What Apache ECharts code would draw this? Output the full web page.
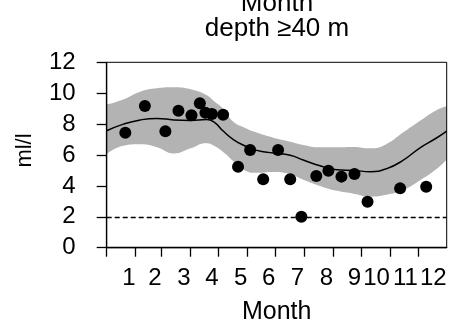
<!DOCTYPE html>
<html>
<head>
<meta charset="utf-8">
<script src="https://cdn.jsdelivr.net/npm/echarts@6/dist/echarts.min.js"></script>
<style>html,body{margin:0;padding:0;background:#fff;}#c{width:457px;height:324px;}</style>
</head>
<body>
<div id="c"></div>
<script>
// Day-of-year positions of month boundaries and labels
var monthStarts = [0, 31, 59, 90, 120, 151, 181, 212, 243, 273, 304, 334];
var monthEnds = [31, 59, 90, 120, 151, 181, 212, 243, 273, 304, 334, 365];
var monthLabels = ["1","2","3","4","5","6","7","8","9","10","11","12"];
var yTicks = [0, 2, 4, 6, 8, 10, 12];

// Observations (day of year, ml/l)
var obsDays = [20, 41, 63, 77, 91, 100, 106, 113, 125, 141, 154, 168, 184, 197, 209, 225, 238, 252, 266, 280, 315, 343];
var obsValues = [7.44, 9.17, 7.53, 8.87, 8.57, 9.35, 8.74, 8.65, 8.61, 5.24, 6.32, 4.43, 6.32, 4.43, 2.0, 4.64, 4.98, 4.6, 4.77, 2.98, 3.84, 3.95];

// Smoothed fit and its confidence band
var fitDays = [0, 18, 36, 54, 72, 90, 107, 115, 125, 136, 147, 161, 179, 197, 211, 229, 247, 265, 283, 300, 318, 336, 354, 365];
var fitValues = [7.57, 8.0, 8.27, 8.37, 8.27, 8.24, 8.3, 8.15, 7.55, 7.0, 6.63, 6.3, 6.13, 5.98, 5.68, 5.3, 5.05, 5.0, 4.92, 5.1, 5.65, 6.45, 7.1, 7.55];
var bandUpper = [9.28, 9.6, 10.1, 10.32, 10.38, 10.25, 9.88, 9.5, 9.0, 8.15, 7.8, 7.45, 7.12, 6.86, 6.65, 6.5, 6.5, 6.52, 6.43, 6.7, 7.45, 8.2, 8.9, 9.15];
var bandLower = [6.06, 6.6, 6.69, 6.5, 6.1, 6.43, 6.76, 6.6, 6.2, 5.6, 5.05, 4.85, 4.9, 4.75, 4.4, 4.0, 3.68, 3.5, 3.3, 3.42, 3.73, 4.35, 5.1, 5.7];
var thresholdValue = 2;

var titleLine1 = "Month";
var titleLine2 = "depth \u226540 m";
var xName = "Month";
var yName = "ml/l";

var FONT = "Liberation Sans, Arial, Helvetica, sans-serif";
var FS = 24;

function pairs(xs, ys) { return xs.map(function (x, i) { return [x, ys[i]]; }); }

var chart = echarts.init(document.getElementById('c'), null, { renderer: 'canvas' });
chart.setOption({
  animation: false,
  backgroundColor: '#fff',
  textStyle: { fontFamily: FONT },
  title: [
    { text: titleLine1, left: 277, textAlign: 'center', top: -7.7, padding: 0,
      textStyle: { fontFamily: FONT, fontSize: 26, fontWeight: 'normal', color: '#000', lineHeight: 24 } },
    { text: titleLine2, left: 277, textAlign: 'center', top: 17.3, padding: 0,
      textStyle: { fontFamily: FONT, fontSize: 26, fontWeight: 'normal', color: '#000', lineHeight: 24 } }
  ],
  grid: { left: 106.7, right: 10.3, top: 62.3, bottom: 76.3, show: true, z: 3, containLabel: false, outerBoundsMode: 'none',
    borderColor: '#000', borderWidth: 1, backgroundColor: 'transparent' },
  xAxis: {
    type: 'value', min: 0, max: 365, z: 4,
    name: xName, nameLocation: 'middle', nameGap: 64, nameMoveOverlap: false,
    nameTextStyle: { fontFamily: FONT, fontSize: 25, color: '#000', verticalAlign: 'middle' },
    axisLine: { show: true, onZero: false, lineStyle: { color: '#000', width: 1.3 } },
    axisTick: { show: true, length: 9, lineStyle: { color: '#000', width: 1.3 }, customValues: monthStarts },
    axisLabel: {
      show: true, fontFamily: FONT, fontSize: FS, color: '#000', margin: 19, align: 'right',
      customValues: monthEnds,
      formatter: function (v) { var i = monthEnds.indexOf(v); return i >= 0 ? monthLabels[i] : ''; }
    },
    splitLine: { show: false }
  },
  yAxis: {
    type: 'value', min: 0, max: 12, interval: 2, z: 4,
    name: yName, nameLocation: 'middle', nameGap: 82, nameRotate: 90, nameMoveOverlap: false,
    nameTextStyle: { fontFamily: FONT, fontSize: 22, color: '#000', verticalAlign: 'middle', padding: [0, 0, 0, 9] },
    axisLine: { show: true, onZero: false, lineStyle: { color: '#000', width: 1.3 } },
    axisTick: { show: true, length: 10, lineStyle: { color: '#000', width: 1.3 } },
    axisLabel: { show: true, fontFamily: FONT, fontSize: FS, color: '#000', margin: 31,
      formatter: function (v) { return yTicks.indexOf(v) >= 0 ? String(v) : ''; } },
    splitLine: { show: false }
  },
  series: [
    { name: 'upper', type: 'line', data: pairs(fitDays, bandUpper), smooth: true, symbol: 'none',
      lineStyle: { width: 0, opacity: 0 }, areaStyle: { color: '#b3b3b3', opacity: 1, origin: 'start' }, silent: true, z: 1 },
    { name: 'lower', type: 'line', data: pairs(fitDays, bandLower), smooth: true, symbol: 'none',
      lineStyle: { width: 0, opacity: 0 }, areaStyle: { color: '#ffffff', opacity: 1, origin: 'start' }, silent: true, z: 1 },
    { name: 'fit', type: 'line', data: pairs(fitDays, fitValues), smooth: true, symbol: 'none',
      lineStyle: { color: '#000', width: 1.5 }, z: 3 },
    { name: 'obs', type: 'scatter', data: pairs(obsDays, obsValues), symbol: 'circle', symbolSize: 12,
      itemStyle: { color: '#000', opacity: 1 }, z: 4,
      markLine: { silent: true, symbol: 'none', label: { show: false }, z: 3,
        lineStyle: { color: '#000', type: [5, 3], width: 1.3, opacity: 1 },
        data: [{ yAxis: thresholdValue }] } }
  ]
});
</script>
</body>
</html>
